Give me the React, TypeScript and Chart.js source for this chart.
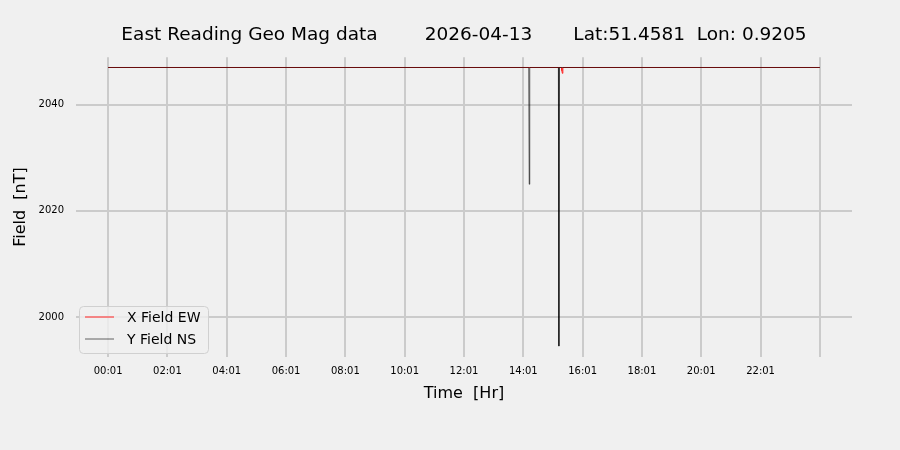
import { useEffect, useRef } from 'react';
import Chart from 'chart.js/auto';

const titleText = 'East Reading Geo Mag data        2026-04-13       Lat:51.4581  Lon: 0.9205';

// minutes since midnight
const xTickValues = [1, 121, 241, 361, 481, 601, 721, 841, 961, 1081, 1201, 1321, 1441];
const xTickLabels = ['00:01', '02:01', '04:01', '06:01', '08:01', '10:01', '12:01', '14:01', '16:01', '18:01', '20:01', '22:01', ''];
const yTickValues = [2000, 2020, 2040];

const ewTimes = [1, 918, 919, 920, 921, 1441];
const ewValues = [2047.0, 2047.0, 2046.4, 2045.9, 2047.0, 2047.0];

const nsTimes = [1, 852, 853, 854, 912, 913, 914, 1441];
const nsValues = [2047.0, 2047.0, 2025.0, 2047.0, 2047.0, 1994.5, 2047.0, 2047.0];

const FONT = "'DejaVu Sans', sans-serif";

const legendBox = {
  id: 'legendBox',
  afterDraw(chart: Chart) {
    const { ctx, chartArea } = chart;
    const x = chartArea.left + 3;
    const y = chartArea.bottom - 51;
    const w = 129;
    const h = 47;
    ctx.save();
    ctx.beginPath();
    ctx.roundRect(x + 0.5, y + 0.5, w, h, 4);
    ctx.fillStyle = 'rgba(240,240,240,0.8)';
    ctx.fill();
    ctx.strokeStyle = '#d0d0d0';
    ctx.lineWidth = 1;
    ctx.stroke();
    ctx.font = `14px ${FONT}`;
    ctx.textBaseline = 'middle';
    chart.data.datasets.forEach((ds, i) => {
      const ly = Math.round(y + 11 + 22 * i);
      ctx.beginPath();
      ctx.moveTo(x + 6, ly);
      ctx.lineTo(x + 35, ly);
      ctx.strokeStyle = ds.borderColor as string;
      ctx.lineWidth = 1;
      ctx.stroke();
      ctx.fillStyle = '#000';
      ctx.fillText(ds.label ?? '', x + 48, ly + 1);
    });
    ctx.restore();
  },
};

export default function App() {
  const canvasRef = useRef<HTMLCanvasElement>(null);
  const chartRef = useRef<Chart | null>(null);

  useEffect(() => {
    if (!canvasRef.current) return;
    if (chartRef.current) chartRef.current.destroy();

    chartRef.current = new Chart(canvasRef.current, {
      type: 'line',
      data: {
        datasets: [
          {
            label: 'X Field EW',
            data: ewTimes.map((t, i) => ({ x: t, y: ewValues[i] })),
            borderColor: '#ff2020',
            borderWidth: 1,
            pointRadius: 0,
            order: 1,
          },
          {
            label: 'Y Field NS',
            data: nsTimes.map((t, i) => ({ x: t, y: nsValues[i] })),
            borderColor: 'rgba(0,0,0,0.6)',
            borderWidth: 1,
            pointRadius: 0,
            order: 0,
          },
        ],
      },
      options: {
        responsive: false,
        animation: false,
        layout: { padding: { left: 0, right: 48, top: 0, bottom: 0 } },
        plugins: {
          legend: { display: false },
          tooltip: { enabled: false },
          title: {
            display: true,
            text: titleText,
            fullSize: false,
            color: '#000',
            font: { family: FONT, size: 18.5, weight: 'normal' },
            padding: { top: 24, bottom: 11 },
          },
        },
        scales: {
          x: {
            type: 'linear',
            min: -64,
            max: 1506,
            afterBuildTicks: (s) => { s.ticks = xTickValues.map((value) => ({ value })); },
            afterFit: (s) => { s.height = 93; },
            grid: { color: '#cbcbcb', lineWidth: 2, drawTicks: false },
            border: { display: false },
            ticks: {
              autoSkip: false,
              maxRotation: 0,
              padding: 8,
              color: '#000',
              font: { family: FONT, size: 10 },
              callback: (_v, i) => xTickLabels[i],
            },
            title: {
              display: true,
              text: 'Time  [Hr]',
              color: '#000',
              font: { family: FONT, size: 16 },
              padding: { top: 0, bottom: 47 },
            },
          },
          y: {
            type: 'linear',
            min: 1992.45,
            max: 2048.94,
            afterBuildTicks: (s) => { s.ticks = yTickValues.map((value) => ({ value })); },
            afterFit: (s) => { s.width = 76; },
            grid: { color: '#cbcbcb', lineWidth: 2, drawTicks: false },
            border: { display: false },
            ticks: {
              padding: 12,
              color: '#000',
              font: { family: FONT, size: 10 },
              callback: (v) => String(v),
            },
            title: {
              display: true,
              text: 'Field  [nT]',
              color: '#000',
              font: { family: FONT, size: 16 },
              padding: { top: 11, bottom: 0 },
            },
          },
        },
      },
      plugins: [legendBox],
    });

    return () => chartRef.current?.destroy();
  }, []);

  return (
    <div style={{ position: 'fixed', left: 0, top: 0, width: 900, height: 450, background: '#f0f0f0' }}>
      <canvas ref={canvasRef} width={900} height={450} />
    </div>
  );
}
